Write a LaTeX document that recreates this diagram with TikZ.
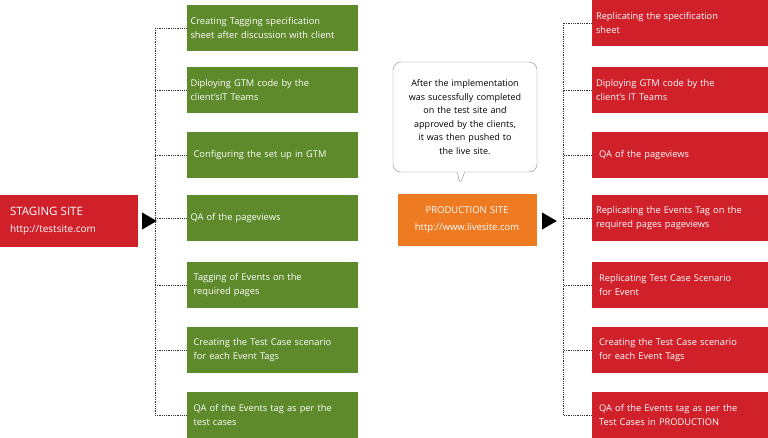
\documentclass[tikz,border=0pt]{standalone}
\usepackage{fontspec}
\setmainfont{Open Sans}
\usetikzlibrary{positioning, shapes.geometric, shapes.callouts}
\definecolor{stagred}{HTML}{D0202A}
\definecolor{stepgreen}{HTML}{5E8A2C}
\definecolor{prodorange}{HTML}{EE7A22}
\hyphenpenalty=10000
\tikzset{%
    % boxes of the two lists
    gbox/.style = {rectangle, fill=stepgreen, text=white, minimum width=171pt,
    minimum height=46pt, text width=163pt, align=left, font=\fontsize{9.3}{13.5}\selectfont},
    rbox/.style = {rectangle, fill=stagred, text=white, minimum width=176pt,
    minimum height=46pt, text width=168pt, align=left, font=\fontsize{9.3}{13.5}\selectfont},
    site/.style = {rectangle, text=white, align=left, minimum height=51pt,
    font=\fontsize{9.5}{17}\selectfont},
    tri/.style  = {isosceles triangle, fill=black, minimum height=9pt,
    minimum width=17pt, inner sep=0pt, isosceles triangle apex angle=60},
    dots/.style = {densely dotted, thick, black!80}
}
\begin{document}
\begin{tikzpicture}[x=1pt,y=1pt]
	\useasboundingbox (0,0) rectangle (768,437);
	
	% staging side
	\node[site, fill=stagred, minimum width=138pt, text width=118pt] (stag) at (69,216)
	{{\fontsize{11.5}{18}\selectfont STAGING SITE}\\ {\fontsize{10}{17}\selectfont http://testsite.com}};
	\node[tri] (t1) at (147,216) {};
	\coordinate (gspine) at (155,216);
	\node[gbox] (g1) at (272,409) {Creating Tagging specification\\ sheet after discussion with client};
	\node[gbox] (g2) at (272,347) {Diploying GTM code by the\\ client'sIT Teams};
	\node[gbox] (g3) at (272,282) {\ Configuring the set up in GTM};
	\node[gbox] (g4) at (272,219) {QA of the pageviews};
	\node[gbox] (g5) at (272,152) {\ Tagging of Events on the\\ \ required pages};
	\node[gbox] (g6) at (272,87)  {\ Creating the Test Case scenario\\ \ for each Event Tags};
	\node[gbox] (g7) at (272,22)  {\ QA of the Events tag as per the\\ \ test cases};
	\draw[dots] (g1.west -| gspine) -- (g7.west -| gspine);
	\foreach \i in {1,...,7}
		\draw[dots] (g\i.west) -- (g\i.west -| gspine);
	
	% production side
	\node[rectangle callout, rounded corners=8pt, draw=black!45, fill=white,
	minimum width=144pt, minimum height=110pt, text width=130pt, align=center,
	callout absolute pointer={(460,251)}, font=\fontsize{9}{13.5}\selectfont] (note) at (465,320)
	{After the implementation\\ was sucessfully completed\\ on the test site and\\ approved by the clients,\\ it was then pushed to\\ the live site.};
	\node[site, fill=prodorange, minimum width=139pt, text width=128pt, align=center] (prod) at (467,217)
	{PRODUCTION SITE\\ http://www.livesite.com};
	\node[tri] (t2) at (547,216) {};
	\coordinate (rspine) at (563,216);
	\node[rbox] (r1) at (680,414) {Replicating the specification\\ sheet};
	\node[rbox] (r2) at (680,347) {Diploying GTM code by the\\ client's IT Teams};
	\node[rbox] (r3) at (680,282) {\ QA of the pageviews};
	\node[rbox] (r4) at (680,219) {Replicating the Events Tag on the required pages pageviews};
	\node[rbox] (r5) at (680,152) {\ Replicating Test Case Scenario\\ \ for Event};
	\node[rbox] (r6) at (680,87)  {\ Creating the Test Case scenario\\ \ for each Event Tags};
	\node[rbox] (r7) at (680,22)  {\ QA of the Events tag as per the\\ \ Test Cases in PRODUCTION};
	\draw[dots] (r1.west -| rspine) -- (r7.west -| rspine);
	\foreach \i in {1,...,7}
		\draw[dots] (r\i.west) -- (r\i.west -| rspine);
	
\end{tikzpicture}
\end{document}
